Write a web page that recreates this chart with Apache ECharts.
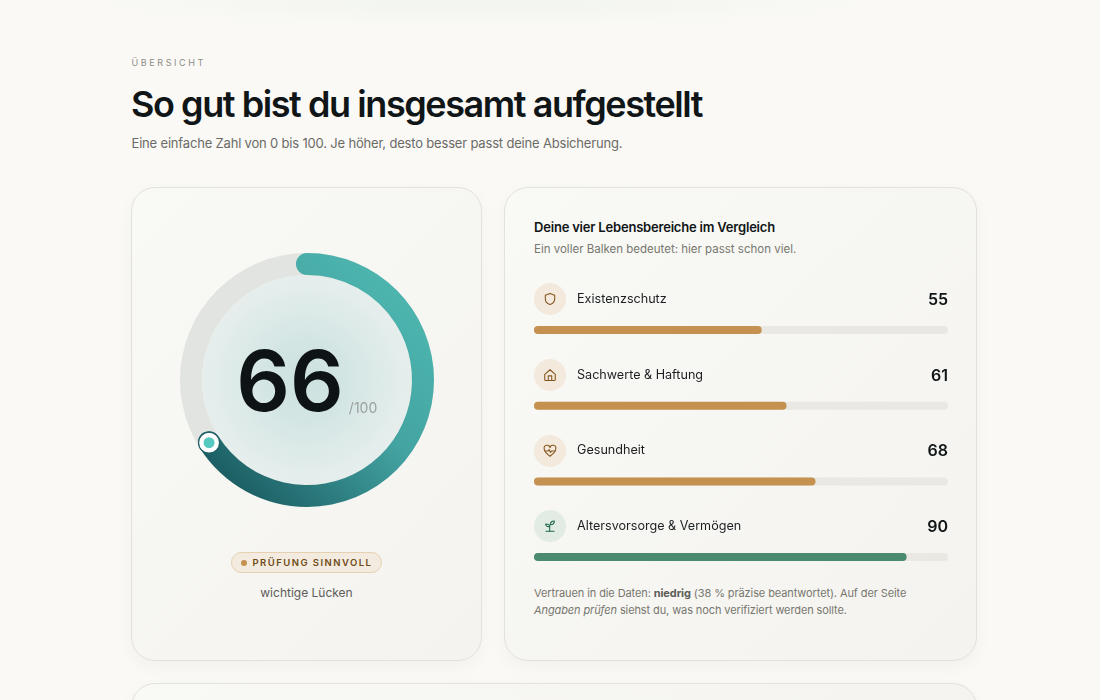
<!DOCTYPE html>
<html lang="de"><head><meta charset="utf-8">
<script src="https://cdn.jsdelivr.net/npm/echarts@6/dist/echarts.min.js"></script>
<style>
html,body{margin:0;padding:0;width:1100px;height:700px;overflow:hidden;background:#faf9f6;font-family:Inter,sans-serif;}
.abs{position:absolute;white-space:nowrap;}
#top{position:absolute;left:0;top:0;width:1100px;height:40px;background:radial-gradient(ellipse 420px 30px at 480px 0,#f1f4ef,rgba(250,249,246,0));}
.card{position:absolute;box-sizing:border-box;border:1px solid #e2e1db;border-radius:24px;background:linear-gradient(135deg,#f9f9f6,#f4f3ef);box-shadow:0 6px 18px rgba(40,40,30,.035);}
#glow{position:absolute;left:202px;top:275px;width:210px;height:210px;border-radius:50%;background:radial-gradient(circle,#cce2e0 0%,#d2e5e3 25%,#e3edeb 62%,#eff2f0 100%);}
#chart{position:absolute;left:0;top:0;width:1100px;height:700px;}
.ic{position:absolute;left:534px;width:32px;height:32px;border-radius:50%;background:#f3e9dd;display:flex;align-items:center;justify-content:center;}
.ic svg{width:14px;height:14px;fill:none;stroke:#85541b;stroke-width:1.8;stroke-linecap:round;stroke-linejoin:round;}
.ic.g{background:#e3ebe5;} .ic.g svg{stroke:#1f6a4c;}
</style></head><body>
<div id="top"></div>
<div class="abs" style="left:131.500px;top:56px;font-size:9px;line-height:13px;letter-spacing:2.6px;color:#8d8d87;">ÜBERSICHT</div>
<div class="abs" style="left:131px;top:82px;font-size:36px;line-height:44px;font-weight:600;letter-spacing:-1.43px;color:#101517;">So gut bist du insgesamt aufgestellt</div>
<div class="abs" style="left:131.500px;top:134px;font-size:13px;line-height:18px;letter-spacing:-0.18px;color:#6b6b66;">Eine einfache Zahl von 0 bis 100. Je höher, desto besser passt deine Absicherung.</div>
<div class="card" style="left:131px;top:187px;width:351px;height:474px;"></div>
<div class="card" style="left:504px;top:187px;width:473px;height:474px;"></div>
<div class="card" style="left:131px;top:683px;width:846px;height:100px;"></div>
<div id="glow"></div>
<div class="abs" style="left:231px;top:552px;width:151px;height:21px;box-sizing:border-box;border:1px solid #e6d0b0;border-radius:11px;background:#f3ebdf;"></div>
<div class="abs" style="left:240.500px;top:559.500px;width:6px;height:6px;border-radius:50%;background:#c4914f;"></div>
<div class="abs" style="left:252.500px;top:556px;font-size:9.500px;line-height:13px;font-weight:600;letter-spacing:1.47px;color:#6f4a17;">PRÜFUNG SINNVOLL</div>
<div class="abs" style="left:131px;width:351px;top:584px;text-align:center;font-size:12px;line-height:18px;color:#5c5c58;">wichtige Lücken</div>
<div class="abs" style="left:534px;top:219px;font-size:13px;line-height:17px;font-weight:600;letter-spacing:-0.2px;color:#101517;">Deine vier Lebensbereiche im Vergleich</div>
<div class="abs" style="left:534px;top:242px;font-size:11.500px;line-height:15px;color:#77776f;">Ein voller Balken bedeutet: hier passt schon viel.</div>
<div class="ic" style="top:283px;"><svg viewBox="0 0 24 24"><path d="M12 2.500l8 3v6.500c0 5-3.500 8-8 9.500-4.500-1.500-8-4.500-8-9.500V5.500z"/></svg></div>
<div class="ic" style="top:359px;"><svg viewBox="0 0 24 24"><path d="M3 11l9-8 9 8v9a1.500 1.500 0 0 1-1.500 1.500h-15A1.500 1.500 0 0 1 3 20z"/><path d="M9 21.500v-8h6v8"/></svg></div>
<div class="ic" style="top:434.500px;"><svg viewBox="0 0 24 24"><path d="M12 21C5 15.500 2 12 2 8a5 5 0 0 1 10-1.500A5 5 0 0 1 22 8c0 4-3 7.500-10 13z"/><path d="M4 12h5l1.500-2.500 2.500 5 1.500-2.500H20"/></svg></div>
<div class="ic g" style="top:510px;"><svg viewBox="0 0 24 24"><path d="M5 21h14"/><path d="M11.500 21v-9"/><path d="M11.500 13C11.500 10 9 8.500 4.500 8.500 4.500 12 7 13.500 11.500 13z"/><path d="M12.500 10C12.500 6 15 3.500 19.500 3.500 19.500 7.500 17 10 12.500 10z"/></svg></div>
<div class="abs" style="left:534px;top:585px;font-size:11px;line-height:17px;letter-spacing:-0.1px;color:#77776f;width:400px;">Vertrauen in die Daten: <b style="font-weight:700;color:#5c5c58;">niedrig</b> (38 % präzise beantwortet). Auf der Seite<br><i>Angaben prüfen</i> siehst du, was noch verifiziert werden sollte.</div>
<div id="chart"></div>
<script>
var score = 66;
var scoreMax = 100;
var scoreSuffix = '/100';
var categories = ['Existenzschutz', 'Sachwerte & Haftung', 'Gesundheit', 'Altersvorsorge & Vermögen'];
var values = [55, 61, 68, 90];
var barColors = ['#c49151', '#c49151', '#c49151', '#4a8a6e'];

var chart = echarts.init(document.getElementById('chart'), null, {renderer: 'canvas'});
var F = 'Inter, sans-serif';
chart.setOption({
  backgroundColor: 'transparent',
  animation: false,
  grid: {left: 534, width: 414, top: 292.2, height: 302.7},
  xAxis: {type: 'value', min: 0, max: 100, show: false},
  yAxis: {type: 'category', inverse: true, data: categories, show: false},
  polar: {center: [307, 380.5], radius: [105, 127]},
  angleAxis: {type: 'value', min: 0, max: scoreMax, startAngle: 90, clockwise: true, show: false},
  radiusAxis: {type: 'value', min: 0, max: 1, show: false},
  series: [
    {
      type: 'gauge', center: [307, 380], radius: 127, startAngle: 90, endAngle: -270,
      min: 0, max: scoreMax, silent: true, z: 2,
      axisTick: {show: false}, splitLine: {show: false}, axisLabel: {show: false}, title: {show: false},
      axisLine: {roundCap: false, lineStyle: {width: 22, color: [[1, '#e2e4e1']]}},
      progress: {show: true, width: 22, roundCap: true, itemStyle: {color: {
        type: 'linear', global: true, x: 405, y: 285, x2: 215, y2: 480,
        colorStops: [{offset: 0, color: '#4eb6af'}, {offset: .45, color: '#43a3a1'}, {offset: 1, color: '#195a60'}]
      }}},
      pointer: {show: false}, anchor: {show: false},
      detail: {show: true, offsetCenter: [-17, 6], valueAnimation: false, formatter: String,
        color: '#0e1416', fontFamily: F, fontSize: 84, fontWeight: 600},
      data: [{value: score}]
    },
    {
      type: 'scatter', coordinateSystem: 'polar', silent: true, z: 5,
      symbol: 'circle', symbolSize: 21,
      itemStyle: {color: '#ffffff', borderColor: '#1c5f64', borderWidth: 1.2, opacity: 1},
      label: {show: true, position: 'inside', offset: [154, -34],
        formatter: function () { return scoreSuffix; },
        color: '#9aa09e', fontFamily: F, fontSize: 14, fontWeight: 400},
      data: [[0.5, score]]
    },
    {
      type: 'scatter', coordinateSystem: 'polar', silent: true, z: 6,
      symbol: 'circle', symbolSize: 11,
      itemStyle: {color: '#55c8c0', opacity: 1},
      data: [[0.5, score]]
    },
    {
      type: 'bar', barWidth: 8, barGap: '-100%', silent: true, z: 2,
      itemStyle: {color: '#e9e8e3', borderRadius: 4},
      label: {show: true, position: 'insideRight', offset: [0, -30], distance: 0,
        formatter: function (p) { return values[p.dataIndex]; },
        color: '#101517', fontFamily: F, fontSize: 16, fontWeight: 600},
      data: categories.map(function () { return 100; })
    },
    {
      type: 'bar', barWidth: 8, barGap: '-100%', silent: true, z: 3,
      label: {show: true, position: 'insideLeft', offset: [43, -31], distance: 0,
        formatter: '{b}', color: '#1c2022', fontFamily: F, fontSize: 12.6, fontWeight: 400},
      data: values.map(function (v, i) {
        return {value: v, itemStyle: {color: barColors[i], borderRadius: 4}};
      })
    }
  ]
});
</script>
</body></html>
